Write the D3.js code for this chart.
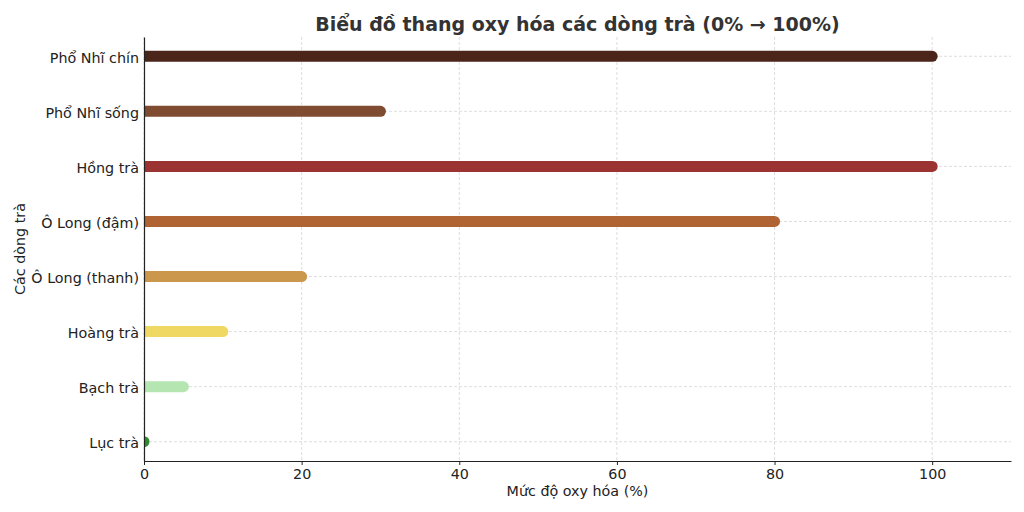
<!DOCTYPE html>
<head>
  <meta charset="utf-8">
  <script src="https://d3js.org/d3.v7.min.js"></script>
  <style>
    body { margin: 0; background: #fff; }
    text { font-family: "DejaVu Sans", sans-serif; fill: #222; }
    .grid line { stroke: #d6d6d6; stroke-width: 0.8; stroke-dasharray: 3,2; }
    .axis path, .axis line { stroke: #222; }
  </style>
</head>
<body>
<script>
var teas = ["Phổ Nhĩ chín", "Phổ Nhĩ sống", "Hồng trà", "Ô Long (đậm)",
            "Ô Long (thanh)", "Hoàng trà", "Bạch trà", "Lục trà"];
var oxidation = [100, 30, 100, 80, 20, 10, 5, 0];
var colors = ["#4b2519", "#7f4b31", "#9b3333", "#b06434", "#ca974c", "#f0d865", "#b5e6b2", "#2e8b2e"];
var xTicks = [0, 20, 40, 60, 80, 100];

var width = 1024, height = 512;
var mLeft = 144, mRight = 1011, mTop = 37, mBottom = 461;

var svg = d3.select("body").append("svg")
    .attr("width", width)
    .attr("height", height);

var x = d3.scaleLinear().domain([0, 110]).range([mLeft, mRight]);
// index 0 at top, matplotlib-style 5% margin
var y = d3.scaleLinear().domain([-0.35, teas.length - 1 + 0.35]).range([mTop, mBottom]);

svg.append("defs").append("clipPath").attr("id", "plot")
  .append("rect").attr("x", mLeft).attr("y", mTop)
  .attr("width", mRight - mLeft).attr("height", mBottom - mTop);

// grid
var grid = svg.append("g").attr("class", "grid");
grid.selectAll(".gx").data(xTicks).enter().append("line")
    .attr("x1", d => x(d)).attr("x2", d => x(d))
    .attr("y1", mTop).attr("y2", mBottom);
grid.selectAll(".gy").data(teas).enter().append("line")
    .attr("x1", mLeft).attr("x2", mRight)
    .attr("y1", (d, i) => y(i)).attr("y2", (d, i) => y(i));

// bars as thick rounded lines
svg.append("g").attr("clip-path", "url(#plot)")
  .selectAll("line").data(teas).enter().append("line")
    .attr("x1", x(0))
    .attr("x2", (d, i) => x(oxidation[i]))
    .attr("y1", (d, i) => y(i))
    .attr("y2", (d, i) => y(i))
    .attr("stroke", (d, i) => colors[i])
    .attr("stroke-width", 11)
    .attr("stroke-linecap", "round");

// axes
var xAxis = svg.append("g").attr("class", "axis")
    .attr("transform", "translate(0," + mBottom + ")")
    .call(d3.axisBottom(x).tickValues(xTicks).tickSize(4).tickPadding(4).tickSizeOuter(0));
xAxis.select(".domain").attr("stroke-width", 1.2);
xAxis.selectAll("text").style("font-size", "14.3px").attr("fill", "#222");

var yAxis = svg.append("g").attr("class", "axis")
    .attr("transform", "translate(" + mLeft + ",0)")
    .call(d3.axisLeft(y).tickValues(d3.range(teas.length)).tickFormat(i => teas[i])
      .tickSize(0).tickPadding(5).tickSizeOuter(0));
yAxis.select(".domain").attr("stroke-width", 1.2);
yAxis.selectAll("text").style("font-size", "14.3px").attr("fill", "#222").attr("dy", "0.4em");

// labels
svg.append("text")
    .attr("x", (mLeft + mRight) / 2).attr("y", 31)
    .attr("text-anchor", "middle")
    .style("font-size", "19px").style("font-weight", "bold")
    .style("fill", "#333")
    .text("Biểu đồ thang oxy hóa các dòng trà (0% → 100%)");

svg.append("text")
    .attr("x", (mLeft + mRight) / 2).attr("y", 496)
    .attr("text-anchor", "middle")
    .style("font-size", "14.3px")
    .text("Mức độ oxy hóa (%)");

svg.append("text")
    .attr("transform", "translate(25," + ((mTop + mBottom) / 2) + ") rotate(-90)")
    .attr("text-anchor", "middle")
    .style("font-size", "14.3px")
    .text("Các dòng trà");
</script>
</body>
